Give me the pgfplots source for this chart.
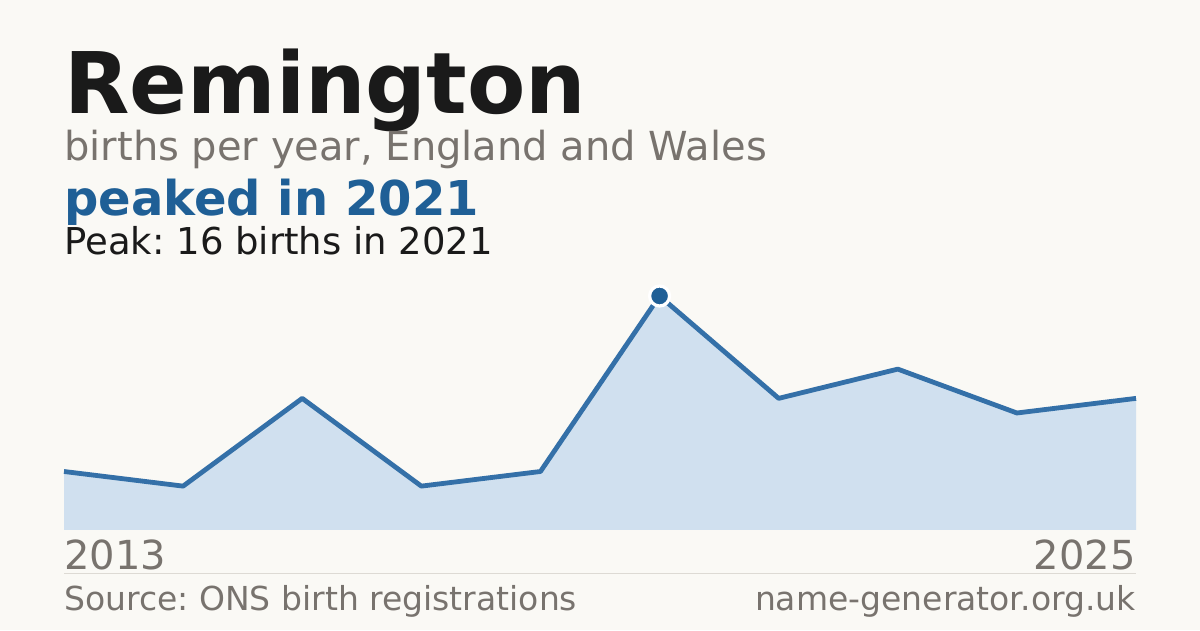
\documentclass[border=0pt]{standalone}
\usepackage{pgfplots}
\pgfplotsset{compat=1.18}
\usepackage{fontspec}
\setmainfont{DejaVu Sans}
\frenchspacing

\definecolor{bg}{HTML}{FAF9F5}
\definecolor{ink}{HTML}{1A1A1A}
\definecolor{muted}{HTML}{78736E}
\definecolor{accent}{HTML}{1F5F96}
\definecolor{linec}{HTML}{3470A8}
\definecolor{areac}{HTML}{D0E0EF}
\definecolor{rule}{HTML}{DDDAD4}

% births per year (index 0 = 2013 ... last = 2025)
\pgfplotstableread{
x y
0 4
1 3
2 9
3 3
4 4
5 16
6 9
7 11
8 8
9 9
}\births

\newcommand{\fs}[1]{\fontsize{#1bp}{#1bp}\selectfont}

\begin{document}
\begin{tikzpicture}[x=0.5bp,y=0.5bp]
  \fill[bg] (0,0) rectangle (1200,630);
  \useasboundingbox (0,0) rectangle (1200,630);

  \node[anchor=base west,inner sep=0,text=ink] at (64,516) {\fs{42.5}\bfseries Remington};
  \node[anchor=base west,inner sep=0,text=muted] at (64,469) {\fs{20}births per year, England and Wales};
  \node[anchor=base west,inner sep=0,text=accent] at (64,414) {\fs{24}\bfseries peaked in 2021};
  \node[anchor=base west,inner sep=0,text=ink] at (64,375) {\fs{18.5}Peak: 16 births in 2021};

  \begin{axis}[
      at={(32bp,50bp)}, anchor=origin,
      width=536bp, height=117bp, scale only axis,
      xmin=0, xmax=9, ymin=0, ymax=16,
      axis lines=none, ticks=none, clip=false,
    ]
    \addplot[fill=areac, draw=none] table[x=x,y=y] {\births} \closedcycle;
    \addplot[linec, line width=2.4bp, line join=round] table[x=x,y=y] {\births};
    \addplot[only marks, mark=*, mark size=5bp,
      mark options={fill=accent, draw=white, line width=1.6bp}] coordinates {(5,16)};
  \end{axis}

  \node[anchor=base west,inner sep=0,text=muted] at (64,60) {\fs{20}2013};
  \node[anchor=base east,inner sep=0,text=muted] at (1136,60) {\fs{20}2025};
  \draw[rule, line width=0.5bp] (64,56) -- (1136,56);
  \node[anchor=base west,inner sep=0,text=muted] at (64,20) {\fs{16.5}Source: ONS birth registrations};
  \node[anchor=base east,inner sep=0,text=muted] at (1136,20) {\fs{16.5}name-generator.org.uk};
\end{tikzpicture}
\end{document}
